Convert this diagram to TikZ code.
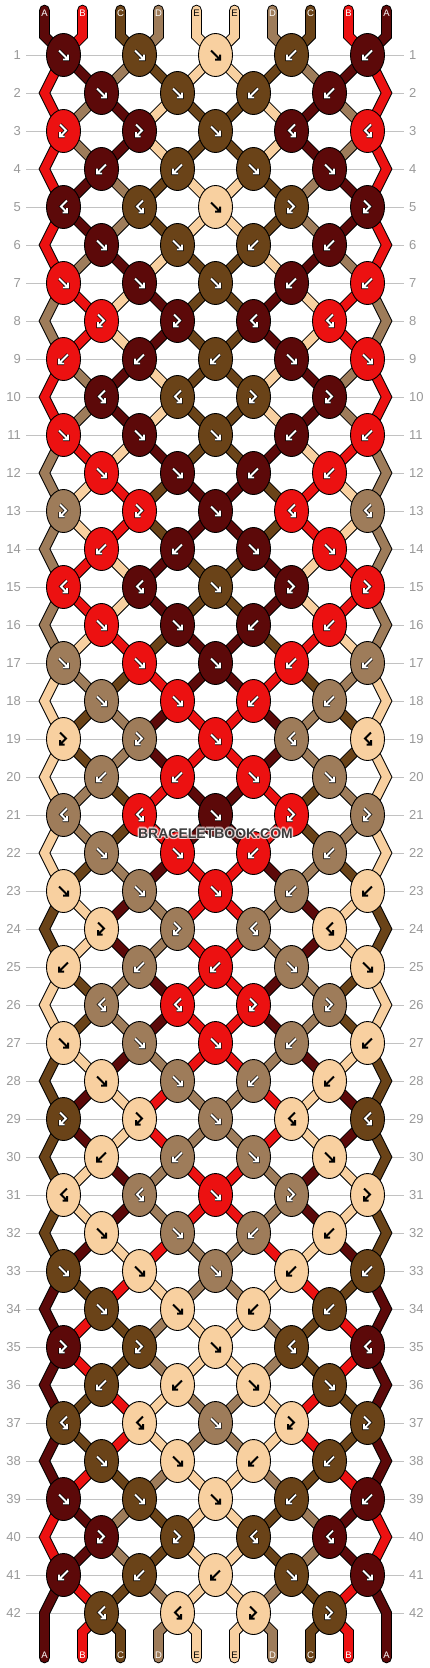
\documentclass[tikz,border=0pt]{standalone}
\usepackage{fontspec}
\setmainfont{Liberation Sans}
\usepackage{tikz}

\definecolor{cA}{HTML}{5C0909}
\definecolor{cB}{HTML}{EC1111}
\definecolor{cC}{HTML}{6A4318}
\definecolor{cD}{HTML}{9E7C5A}
\definecolor{cE}{HTML}{F8D0A0}
\definecolor{rowgray}{HTML}{999999}
\definecolor{linegray}{HTML}{C2C2C2}
\definecolor{wmgray}{HTML}{3C3C3C}

% ---------- simulation of the knotting ----------
\newcount\kk \newcount\sa \newcount\sb \newcount\rownum
\def\sidof#1{\csname sid\number#1\endcsname}
\def\addpt#1#2#3{\expandafter\xdef\csname pth#1\endcsname{\csname pth#1\endcsname -- (#2,#3)}}
\def\initid#1#2#3{%
  \expandafter\def\csname sid#1\endcsname{#1}%
  \expandafter\def\csname idc#1\endcsname{#2}%
  \expandafter\xdef\csname pth#1\endcsname{(#3,10) -- (#3,36)}}
\initid{1}{cA}{44.5}\initid{2}{cB}{82.5}\initid{3}{cC}{120.5}\initid{4}{cD}{158.5}
\initid{5}{cE}{196.5}\initid{6}{cE}{234.5}\initid{7}{cD}{272.5}\initid{8}{cC}{310.5}
\initid{9}{cB}{348.5}\initid{10}{cA}{386.5}
\let\knot\relax
\def\knotlist{}
\def\tF{F}\def\tB{B}\def\tL{L}\def\tR{R}
\def\doswap{\expandafter\edef\csname sid\number\sa\endcsname{\idb}%
  \expandafter\edef\csname sid\number\sb\endcsname{\ida}}
\def\doknot#1{%
  \advance\kk by 1
  \ifodd\rownum
    \sa=\numexpr 2*\kk-1\relax
    \pgfmathsetmacro\xx{63.5+76*(\the\kk-1)}%
  \else
    \sa=\numexpr 2*\kk\relax
    \pgfmathsetmacro\xx{101.5+76*(\the\kk-1)}%
  \fi
  \sb=\numexpr\sa+1\relax
  \edef\ida{\sidof\sa}\edef\idb{\sidof\sb}%
  \addpt\ida\xx\yy
  \addpt\idb\xx\yy
  \def\kt{#1}%
  \ifx\kt\tF \edef\kc{\csname idc\ida\endcsname}\doswap\fi
  \ifx\kt\tB \edef\kc{\csname idc\idb\endcsname}\doswap\fi
  \ifx\kt\tL \edef\kc{\csname idc\ida\endcsname}\fi
  \ifx\kt\tR \edef\kc{\csname idc\idb\endcsname}\fi
  \xdef\knotlist{\knotlist\noexpand\knot{\xx}{\yy}{\kc}{#1}}%
}
\def\proclist#1{\ifx#1\relax\else\doknot{#1}\expandafter\proclist\fi}
\def\prow#1#2{%
  \rownum=#1\relax \kk=0
  \pgfmathsetmacro\yy{55+38*(#1-1)}%
  \ifodd\rownum\else
    \edef\tmp{\sidof{1}}\addpt\tmp{44.5}\yy
    \edef\tmp{\sidof{10}}\addpt\tmp{386.5}\yy
  \fi
  \proclist#2\relax}
\prow{1}{FFFBB}\prow{2}{FFBB}\prow{3}{LLFRR}\prow{4}{BBFF}\prow{5}{RRFLL}
\prow{6}{FFBB}\prow{7}{FFFBB}\prow{8}{LLRR}\prow{9}{BBBFF}\prow{10}{RRLL}
\prow{11}{FFFBB}\prow{12}{FFBB}\prow{13}{LLFRR}\prow{14}{BBFF}\prow{15}{RRFLL}
\prow{16}{FFBB}\prow{17}{FFFBB}\prow{18}{FFBB}\prow{19}{LLFRR}\prow{20}{BBFF}
\prow{21}{RRFLL}\prow{22}{FFBB}\prow{23}{FFFBB}\prow{24}{LLRR}\prow{25}{BBBFF}
\prow{26}{RRLL}\prow{27}{FFFBB}\prow{28}{FFBB}\prow{29}{LLFRR}\prow{30}{BBFF}
\prow{31}{RRFLL}\prow{32}{FFBB}\prow{33}{FFFBB}\prow{34}{FFBB}\prow{35}{LLFRR}
\prow{36}{BBFF}\prow{37}{RRFLL}\prow{38}{FFBB}\prow{39}{FFFBB}\prow{40}{LLRR}
\prow{41}{BBBFF}\prow{42}{RRLL}
\def\fin#1#2{\edef\tmp{\sidof{#1}}\addpt\tmp{#2}{1632}\addpt\tmp{#2}{1658}}
\fin{1}{44.5}\fin{2}{82.5}\fin{3}{120.5}\fin{4}{158.5}\fin{5}{196.5}
\fin{6}{234.5}\fin{7}{272.5}\fin{8}{310.5}\fin{9}{348.5}\fin{10}{386.5}

% ---------- drawing helpers ----------
\newif\ifdarkknot
\def\cEname{cE}
\def\gdraw#1{\ifdarkknot
    \draw[black, line width=3.4pt, line join=miter] #1;
    \draw[white, line width=1.8pt, line join=miter] #1;
  \else
    \draw[black, line width=2pt, line join=miter] #1;
  \fi}
\def\glyphF{\gdraw{(-4.5,-4.5) -- (4.5,4.5) (4.5,-0.5) -- (4.5,4.5) -- (-0.5,4.5)}}
\def\glyphB{\gdraw{(4.5,-4.5) -- (-4.5,4.5) (-4.5,-0.5) -- (-4.5,4.5) -- (0.5,4.5)}}
\def\glyphL{\gdraw{(-3.5,-6.5) -- (2.5,-0.5) -- (-3.5,5.5) (-3.5,1) -- (-3.5,5.5) -- (1,5.5)}}
\def\glyphR{\gdraw{(3.5,-6.5) -- (-2.5,-0.5) -- (3.5,5.5) (3.5,1) -- (3.5,5.5) -- (-1,5.5)}}
\def\knotdraw#1#2#3#4{%
  \draw[fill=#3, line width=0.9pt] (#1,#2) ellipse [x radius=17pt, y radius=21.5pt];
  \def\tmpc{#3}%
  \ifx\tmpc\cEname \darkknotfalse \else \darkknottrue \fi
  \begin{scope}[shift={(#1,#2)}]
    \csname glyph#4\endcsname
  \end{scope}}
\tikzset{
  rowlab/.style={text=rowgray, font=\fontsize{13}{13}\selectfont, inner sep=0pt},
  strlab/.style={font=\fontsize{9.5}{9.5}\selectfont, inner sep=0pt},
  wm/.style={font=\bfseries\fontsize{14}{14}\selectfont, inner sep=0pt, anchor=base}
}

\begin{document}
\begin{tikzpicture}[x=1pt, y=-1pt]
  \fill[white] (0,0) rectangle (430,1668);
  \useasboundingbox (0,0) rectangle (430,1668);
  % row guide lines and numbers
  \foreach \r in {1,...,42}{
    \pgfmathsetmacro\yl{55+38*(\r-1)}
    \draw[linegray, line width=0.9pt] (26,\yl) -- (404,\yl);
    \node[rowlab, anchor=east] (L\r) at (21,\yl) {\r};
    \node[rowlab, anchor=west] (R\r) at (409,\yl) {\r};
  }
  % threads
  \foreach \s in {1,...,10}{
    \edef\p{\csname pth\s\endcsname}
    \edef\c{\csname idc\s\endcsname}
    \edef\cmd{\noexpand\draw[black, line width=10.6pt, line join=miter, line cap=round] \p;
      \noexpand\draw[\c, line width=8.6pt, line join=miter, line cap=round] \p;}
    \cmd
  }
  % knots
  \let\knot\knotdraw
  \knotlist
  % string letters
  \foreach \x/\t/\tc [count=\i] in {44.5/A/white, 82.5/B/white, 120.5/C/white, 158.5/D/white, 196.5/E/black, 234.5/E/black, 272.5/D/white, 310.5/C/white, 348.5/B/white, 386.5/A/white}{
    \node[strlab, text=\tc] (T\i) at (\x,13) {\t};
    \node[strlab, text=\tc] (U\i) at (\x,1655) {\t};
  }
  % watermark
  \foreach \dx/\dy in {-1/-1, 1/-1, -1/1, 1/1, 0/-1.4, 0/1.4, -1.4/0, 1.4/0}{
    \node[wm, text=white, opacity=0.45] at (215.5+\dx, 838+\dy) {BRACELETBOOK.COM};
  }
  \node[wm, text=wmgray] (wm) at (215.5, 838) {BRACELETBOOK.COM};
\end{tikzpicture}
\end{document}
